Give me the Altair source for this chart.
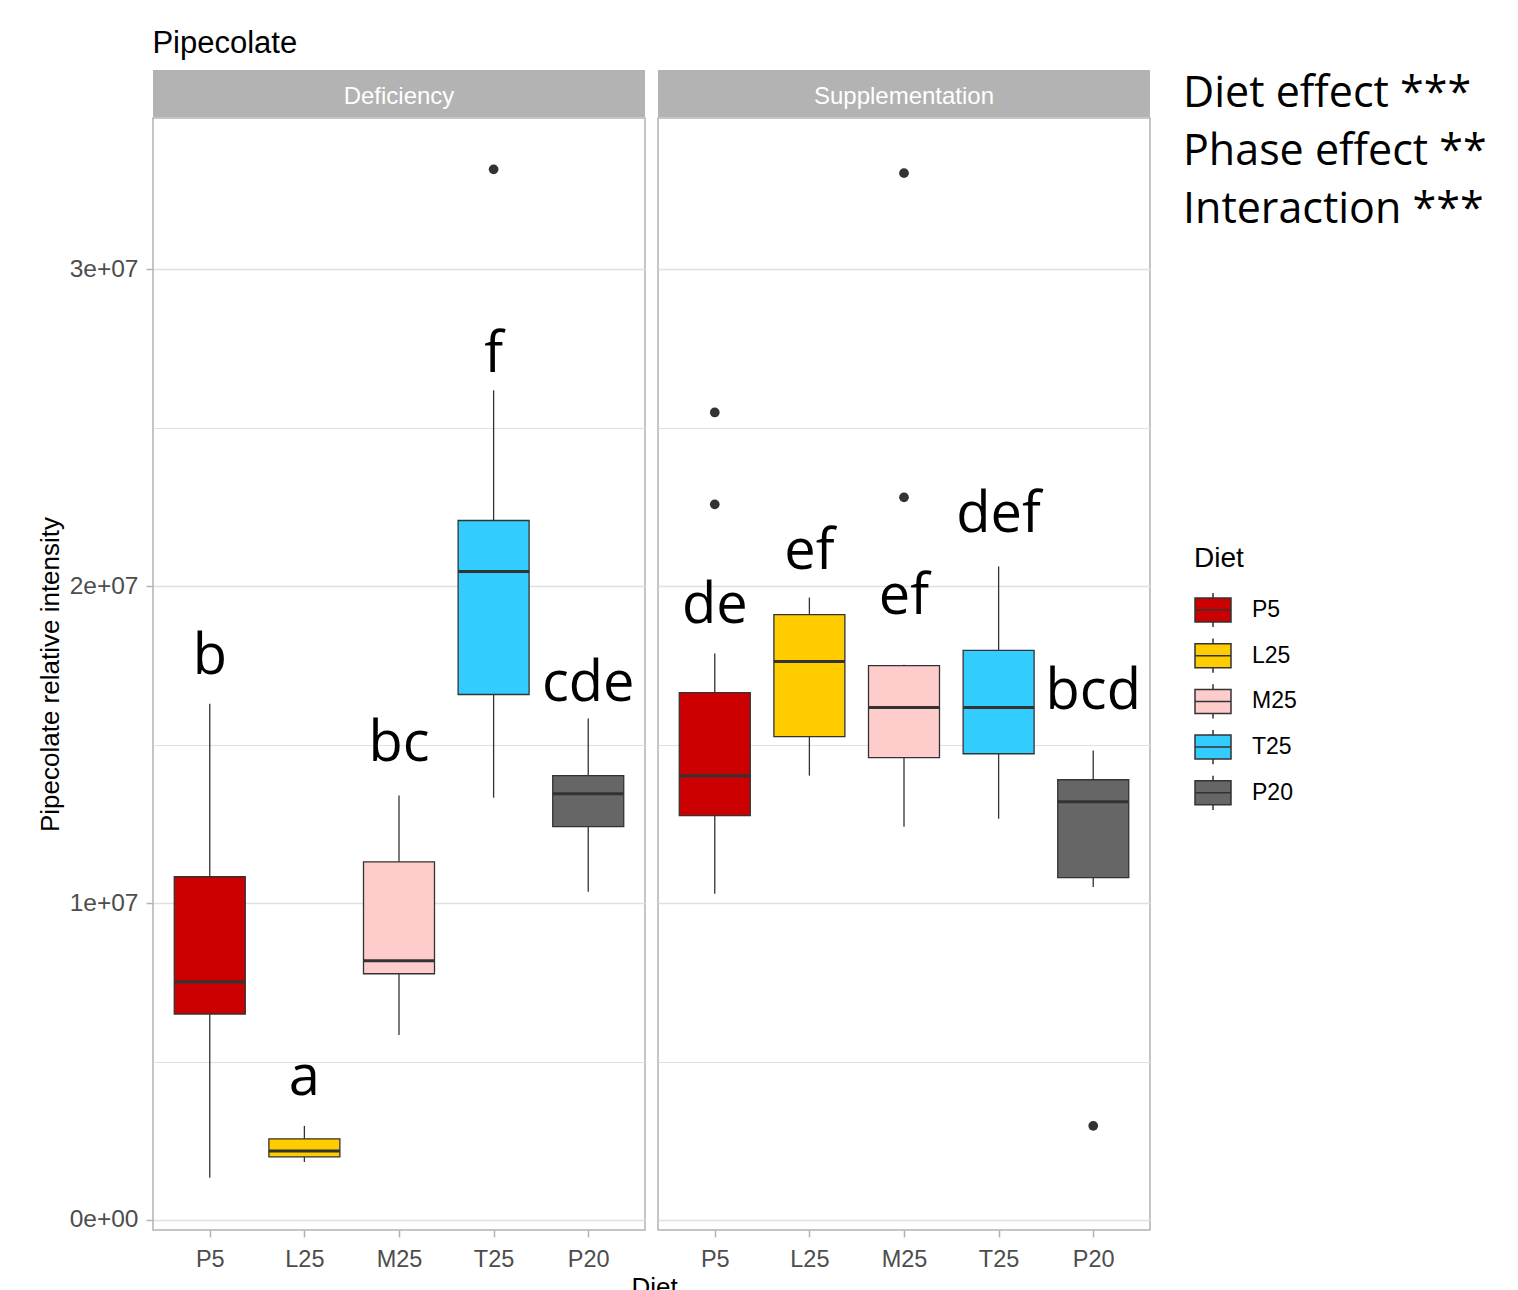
import altair as alt
import pandas as pd

# ---------------- data (values in millions) ----------------
diets = ["P5", "L25", "M25", "T25", "P20"]
colors = ["#CC0000", "#FFCC00", "#FFCCCC", "#33CCFF", "#666666"]
phases = ["Deficiency", "Supplementation"]

def_low = [1.33, 1.83, 5.84, 13.32, 10.36]
def_q1 = [6.50, 1.99, 7.77, 16.58, 12.41]
def_med = [7.52, 2.18, 8.18, 20.46, 13.45]
def_q3 = [10.83, 2.56, 11.30, 22.07, 14.02]
def_up = [16.29, 2.97, 13.39, 26.18, 15.82]
def_letters = ["b", "a", "bc", "f", "cde"]
def_letter_y = [17.75, 4.48, 15.03, 27.28, 16.92]

sup_low = [10.29, 14.02, 12.41, 12.66, 10.51]
sup_q1 = [12.76, 15.25, 14.59, 14.71, 10.80]
sup_med = [14.02, 17.62, 16.17, 16.17, 13.20]
sup_q3 = [16.64, 19.10, 17.49, 17.97, 13.89]
sup_up = [17.87, 19.64, 17.52, 20.62, 14.81]
sup_letters = ["de", "ef", "ef", "def", "bcd"]
sup_letter_y = [19.36, 21.09, 19.67, 22.23, 16.67]

out_phase = ["Deficiency", "Supplementation", "Supplementation", "Supplementation", "Supplementation", "Supplementation"]
out_diet = ["T25", "P5", "P5", "M25", "M25", "P20"]
out_val = [33.15, 22.58, 25.48, 22.80, 33.03, 2.97]

stats_lines = ["Diet effect ***", "Phase effect **", "Interaction ***"]
y_ticks = [0, 5, 10, 15, 20, 25, 30]
y_domain = [-0.316, 34.77]

M = 1e6

# ---------------- tables ----------------
box_df = pd.DataFrame({
    "Phase": ["Deficiency"] * 5 + ["Supplementation"] * 5,
    "Diet": diets * 2,
    "low": [v * M for v in def_low + sup_low],
    "q1": [v * M for v in def_q1 + sup_q1],
    "med": [v * M for v in def_med + sup_med],
    "q3": [v * M for v in def_q3 + sup_q3],
    "up": [v * M for v in def_up + sup_up],
    "letter": def_letters + sup_letters,
    "ly": [v * M for v in def_letter_y + sup_letter_y],
})
out_df = pd.DataFrame({"Phase": out_phase, "Diet": out_diet, "val": [v * M for v in out_val]})

W = 492
H = 1112
FONT = "Liberation Sans"

path = ("M-1,-0.667H1V0.667H-1Z M-1,0H1 M0,-0.667V-0.95 M0,0.667V0.95")

color_scale = alt.Scale(domain=diets, range=colors)
legend = alt.Legend(
    title="Diet", orient="none", legendX=1041, legendY=475,
    symbolType=path, symbolSize=1296, symbolStrokeColor="#333333",
    symbolStrokeWidth=1.5, symbolOpacity=1, labelFontSize=23, labelFont=FONT,
    labelColor="black", titleFontSize=28, titleFont=FONT, titleColor="black",
    titleFontWeight="normal", rowPadding=3.7, labelOffset=20, titlePadding=18,
    padding=0,
)

minor_test = "datum.value % 10000000 !== 0"


def panel(phase, first):
    d = box_df[box_df.Phase == phase]
    o = out_df[out_df.Phase == phase]
    xaxis = alt.Axis(title=None, labelAngle=0, labelPadding=10, labelFontSize=23.5)
    if first:
        yaxis = alt.Axis(
            values=[v * M for v in y_ticks],
            labelExpr="datum.value % 10000000 === 0 ? (datum.value === 0 ? '0e+00' : (datum.value/10000000) + 'e+07') : ''",
            tickOpacity={"condition": {"test": minor_test, "value": 0}, "value": 1},
            gridWidth={"condition": {"test": minor_test, "value": 1}, "value": 1.6},
            title="Pipecolate relative intensity", labelPadding=8, titlePadding=6,
            labelFontSize=24.5,
        )
    else:
        yaxis = alt.Axis(
            values=[v * M for v in y_ticks], labels=False, ticks=False, title=None,
            gridWidth={"condition": {"test": minor_test, "value": 1}, "value": 1.6},
        )
    x = alt.X("Diet:N", sort=diets, scale=alt.Scale(type="point", padding=0.6), axis=xaxis)
    ysc = alt.Scale(domain=[v * M for v in y_domain], nice=False, zero=False)
    base = alt.Chart(d)
    whisk = base.mark_rule(color="#333333", strokeWidth=1.3).encode(
        x=x, y=alt.Y("low:Q", scale=ysc, axis=yaxis), y2="up:Q")
    box = base.mark_bar(size=71, stroke="#333333", strokeWidth=1.3, opacity=1).encode(
        x=x, y=alt.Y("q1:Q", scale=ysc), y2="q3:Q",
        color=alt.Color("Diet:N", scale=color_scale, sort=diets, legend=legend))
    med = base.mark_tick(size=71, thickness=3, color="#333333", opacity=1).encode(
        x=x, y=alt.Y("med:Q", scale=ysc))
    pts = alt.Chart(o).mark_circle(size=95, color="#333333", opacity=1).encode(
        x=x, y=alt.Y("val:Q", scale=ysc))
    txt = base.mark_text(font="Open Sans", fontSize=56, color="black", baseline="middle").encode(
        x=x, y=alt.Y("ly:Q", scale=ysc), text="letter:N")
    return alt.layer(whisk, box, med, pts, txt).properties(
        width=W, height=H,
        view=alt.ViewBackground(stroke="#B3B3B3", strokeWidth=1.5, fill="white"))


def strip(label):
    return alt.Chart(pd.DataFrame({"label": [label]})).mark_text(
        color="white", fontSize=24, font=FONT, baseline="middle", dy=3).encode(
        x=alt.X("label:N", axis=None), text="label:N").properties(
        width=W, height=47, view=alt.ViewBackground(fill="#B3B3B3", strokeWidth=0))


left = alt.vconcat(strip("Deficiency"), panel("Deficiency", True), spacing=0)
right = alt.vconcat(strip("Supplementation"), panel("Supplementation", False), spacing=0)

panels = alt.hconcat(left, right, spacing=11).properties(
    title=alt.TitleParams("Diet", orient="bottom", anchor="middle", fontSize=26, font=FONT,
                          fontWeight="normal", color="black", offset=4, dx=61))

annot = alt.Chart(pd.DataFrame({"line": stats_lines, "i": [0, 1, 2]})).mark_text(
    font="Open Sans", fontSize=43, align="left", baseline="middle", color="black", dy=3).encode(
    x=alt.value(0),
    y=alt.Y("i:O", axis=None, scale=alt.Scale(type="point", padding=0.362)),
    text="line:N").properties(width=300, height=158, view=alt.ViewBackground(strokeWidth=0))

chart = alt.hconcat(panels, annot, spacing=32).properties(
    title=alt.TitleParams("Pipecolate", anchor="start", fontSize=31, font=FONT,
                          fontWeight="normal", color="black", offset=10, dx=116),
    padding={"left": 28, "top": 20, "right": 5, "bottom": 5},
).configure_axis(
    labelFont=FONT, labelFontSize=22, labelColor="#4D4D4D", tickColor="#B3B3B3",
    tickSize=7, tickWidth=1.5, domain=False, gridColor="#E0E0E0",
    titleFont=FONT, titleFontSize=26, titleFontWeight="normal", titleColor="black",
).configure_concat(spacing=0)

chart.save("out.html", embed_options={"renderer": "svg", "actions": False})
